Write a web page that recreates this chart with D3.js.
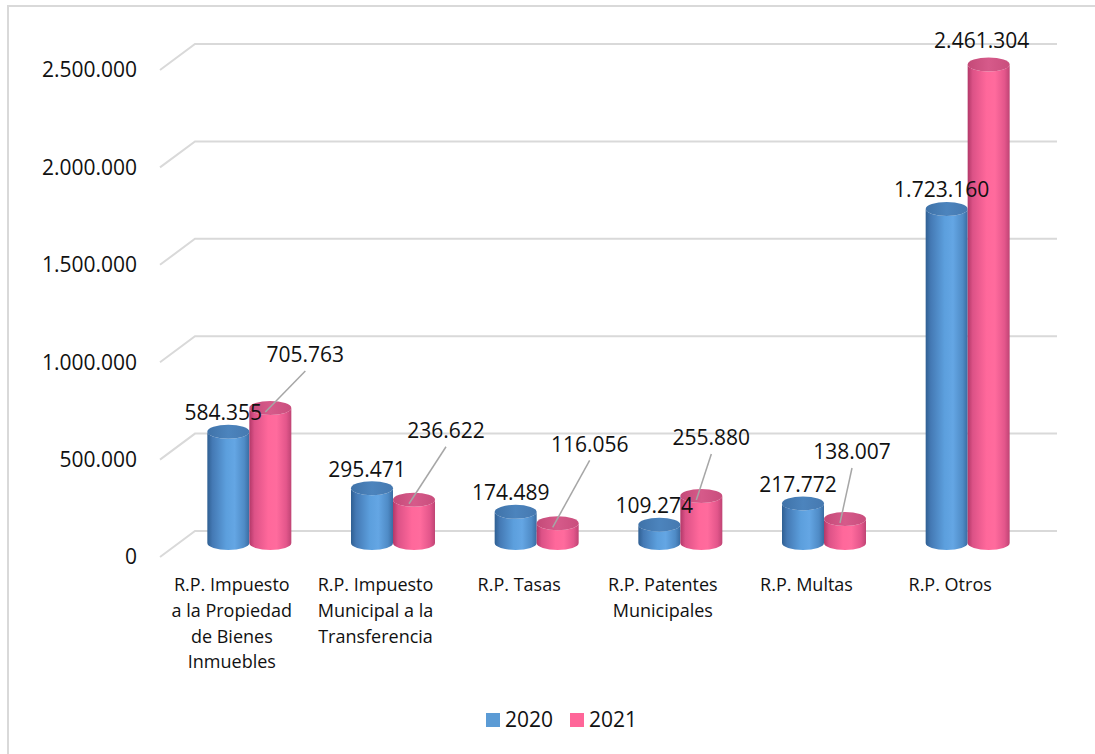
<!DOCTYPE html>
<html>
<head>
<meta charset="utf-8">
<script src="https://cdn.jsdelivr.net/npm/d3@7"></script>
<style>
  body { margin: 0; background: #fff; }
  svg { display: block; font-family: "Open Sans", sans-serif; }
</style>
</head>
<body>
<svg id="chart" width="1095" height="754"></svg>
<script>
// chart data
const categories = [
  ["R.P. Impuesto", "a la Propiedad", "de Bienes", "Inmuebles"],
  ["R.P. Impuesto", "Municipal a la", "Transferencia"],
  ["R.P. Tasas"],
  ["R.P. Patentes", "Municipales"],
  ["R.P. Multas"],
  ["R.P. Otros"]
];
const series = ["2020", "2021"];
const values2020 = [584355, 295471, 174489, 109274, 217772, 1723160];
const values2021 = [705763, 236622, 116056, 255880, 138007, 2461304];
const yTicks = [0, 500000, 1000000, 1500000, 2000000, 2500000];

// manual nudges of the 2021 labels (dragged labels with leader lines)
const labelNudge2021 = [[35, -53], [32, -69], [32, -79], [10, -58], [7, -67], [-7, -24]];

const colors = { "2020": "#5b9bd5", "2021": "#ff6699" };

const fmt = d3.formatLocale({ decimal: ",", thousands: ".", grouping: [3], currency: ["", ""] }).format(",d");

const svg = d3.select("#chart");

// outer border
svg.append("rect")
  .attr("x", 8).attr("y", 6)
  .attr("width", 1100).attr("height", 760)
  .attr("fill", "none").attr("stroke", "#d9d9d9").attr("stroke-width", 2);

// 3d geometry: front plane, back wall offset
const depth = { dx: 35, dy: -26 };

const x = d3.scaleBand()
  .domain(d3.range(categories.length))
  .range([160, 1022]);

const yFront = d3.scaleLinear().domain([0, 2500000]).range([557, 70]);
const yBar = d3.scaleLinear().domain([0, 2500000]).range([546, 57]);
const baseY = 543;

const inner = d3.scaleBand().domain(series).range([-42, 42]);

// gradients
const defs = svg.append("defs");
function addGradient(id, stops) {
  const g = defs.append("linearGradient").attr("id", id)
    .attr("x1", "0%").attr("x2", "100%").attr("y1", "0%").attr("y2", "0%");
  stops.forEach(([o, c]) => g.append("stop").attr("offset", o).attr("stop-color", c));
}
addGradient("body2020", [[0, "#2f5f92"], [0.12, "#4479b4"], [0.45, "#5c9fdd"], [0.65, "#64a6e4"], [0.88, "#4f8bc6"], [1, "#3a6ca2"]]);
addGradient("body2021", [[0, "#b23868"], [0.12, "#dc5287"], [0.45, "#ff689b"], [0.65, "#ff6b9d"], [0.88, "#e3568b"], [1, "#bf4474"]]);
addGradient("top2020", [[0, "#3f72a8"], [0.5, "#4c84bd"], [1, "#4679b0"]]);
addGradient("top2021", [[0, "#c44a78"], [0.5, "#d65a8a"], [1, "#c94e7d"]]);

// gridlines (back wall + diagonal side)
const grid = svg.append("g").attr("stroke", "#d9d9d9").attr("stroke-width", 2).attr("fill", "none");
const x0 = x.range()[0], x1 = x.range()[1];
yTicks.forEach(t => {
  const yf = yFront(t);
  grid.append("path")
    .attr("d", `M${x0},${yf} L${x0 + depth.dx},${yf + depth.dy} L${x1 + depth.dx},${yf + depth.dy}`);
});

// y axis labels
svg.append("g").selectAll("text")
  .data(yTicks)
  .join("text")
  .attr("x", 137)
  .attr("y", d => yFront(d))
  .attr("dy", "0.35em")
  .attr("text-anchor", "end")
  .attr("font-size", 21)
  .attr("fill", "#111")
  .text(d => fmt(d));

// category labels
const catG = svg.append("g");
categories.forEach((lines, i) => {
  const t = catG.append("text")
    .attr("x", x(i) + x.bandwidth() / 2)
    .attr("y", 585)
    .attr("text-anchor", "middle")
    .attr("font-size", 18)
    .attr("fill", "#111");
  lines.forEach((ln, j) => {
    t.append("tspan")
      .attr("x", x(i) + x.bandwidth() / 2)
      .attr("y", 585 + j * 25.6)
      .attr("dy", "0.35em")
      .text(ln);
  });
});

// cylinders
const rx = 21, ry = 7;
function cylinder(cx, yTop, yBase) {
  return `M${cx - rx},${yTop} L${cx - rx},${yBase} A${rx},${ry} 0 0 0 ${cx + rx},${yBase} ` +
    `L${cx + rx},${yTop} A${rx},${ry} 0 0 1 ${cx - rx},${yTop} Z`;
}

const rows = categories.map((c, i) => ({
  i,
  bars: [
    { s: "2020", v: values2020[i] },
    { s: "2021", v: values2021[i] }
  ]
}));

const barsG = svg.append("g");
rows.forEach(r => {
  const mid = x(r.i) + x.bandwidth() / 2 + depth.dx / 2;
  r.bars.forEach(b => {
    b.cx = mid + inner(b.s) + inner.bandwidth() / 2;
    b.top = yBar(b.v);
    barsG.append("path")
      .attr("d", cylinder(b.cx, b.top, baseY))
      .attr("fill", `url(#body${b.s})`);
    barsG.append("ellipse")
      .attr("cx", b.cx).attr("cy", b.top)
      .attr("rx", rx).attr("ry", ry)
      .attr("fill", `url(#top${b.s})`);
  });
});

// data labels
const labG = svg.append("g").attr("font-size", 21).attr("fill", "#111").attr("text-anchor", "middle");
rows.forEach(r => {
  const [b0, b1] = r.bars;
  labG.append("text")
    .attr("x", b0.cx - 5).attr("y", b0.top - 19)
    .attr("dy", "0.35em")
    .text(fmt(b0.v));

  const [ndx, ndy] = labelNudge2021[r.i];
  const lx = b1.cx + ndx, ly = b1.top + ndy;
  if (ndy < -40) {
    labG.append("line")
      .attr("x1", lx).attr("y1", ly + 16)
      .attr("x2", b1.cx - 5).attr("y2", b1.top + 4)
      .attr("stroke", "#a6a6a6").attr("stroke-width", 1.5);
  }
  labG.append("text")
    .attr("x", lx).attr("y", ly)
    .attr("dy", "0.35em")
    .text(fmt(b1.v));
});

// legend
const legend = svg.append("g").attr("font-size", 21).attr("fill", "#111");
const legendX = [486, 570];
series.forEach((s, i) => {
  legend.append("rect")
    .attr("x", legendX[i]).attr("y", 713)
    .attr("width", 14).attr("height", 14)
    .attr("fill", colors[s]);
  legend.append("text")
    .attr("x", legendX[i] + 19).attr("y", 720)
    .attr("dy", "0.35em")
    .text(s);
});
</script>
</body>
</html>
